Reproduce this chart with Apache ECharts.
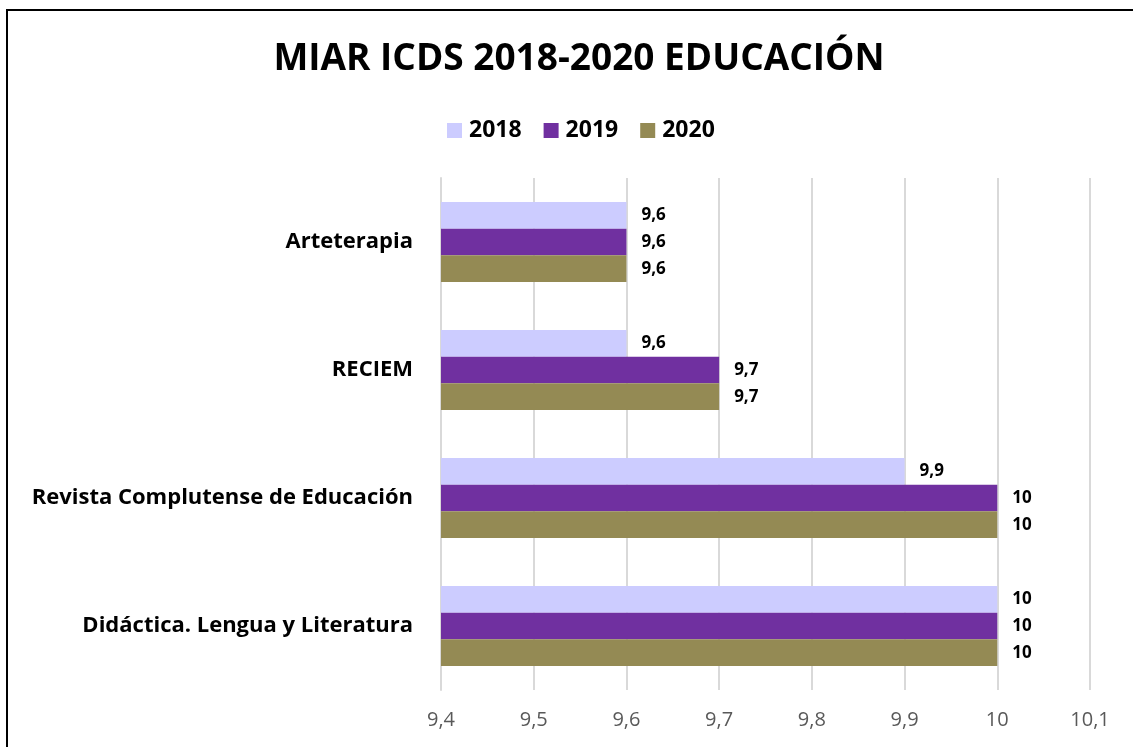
<!DOCTYPE html>
<html>
<head>
<meta charset="utf-8">
<script src="https://cdn.jsdelivr.net/npm/echarts@6/dist/echarts.min.js"></script>
<style>
  html, body { margin: 0; padding: 0; background: #fff; }
  #main { width: 1133px; height: 747px; }
</style>
</head>
<body>
<div id="main"></div>
<script>
var categories = ['Didáctica. Lengua y Literatura', 'Revista Complutense de Educación', 'RECIEM', 'Arteterapia'];
var years = ['2018', '2019', '2020'];
var values2018 = [10, 9.9, 9.6, 9.6];
var values2019 = [10, 10, 9.7, 9.6];
var values2020 = [10, 10, 9.7, 9.6];
var colors = ['#CCCCFF', '#7030A0', '#948A54'];

var font = '"Open Sans", "Noto Sans", sans-serif';

function comma(v) {
    return String(v).replace('.', ',');
}

var seriesData = [values2018, values2019, values2020];
var series = [];
for (var i = 0; i < years.length; i++) {
    series.push({
        name: years[i],
        type: 'bar',
        data: seriesData[i],
        barGap: '0%',
        barCategoryGap: '37.5%',
        itemStyle: { color: colors[i] },
        label: {
            show: true,
            position: 'right',
            distance: 15,
            color: '#000',
            fontWeight: 'bold',
            fontSize: 17,
            fontFamily: font,
            formatter: function (p) { return comma(p.value); }
        }
    });
}

var option = {
    backgroundColor: '#fff',
    animation: false,
    color: colors,
    title: {
        text: 'MIAR ICDS 2018-2020 EDUCACIÓN',
        left: 574,
        textAlign: 'center',
        top: 36,
        textStyle: { fontFamily: font, fontWeight: 'bold', fontSize: 37, color: '#000' }
    },
    legend: {
        top: 114,
        left: 442,
        itemWidth: 15,
        itemHeight: 15,
        itemGap: 22,
        icon: 'rect',
        textStyle: { fontFamily: font, fontWeight: 'bold', fontSize: 23, color: '#000', padding: [0, 0, 0, 2] }
    },
    grid: { left: 441, right: 43, top: 178, bottom: 57 },
    xAxis: {
        type: 'value',
        min: 9.4,
        max: 10.1,
        interval: 0.1,
        axisLine: { show: false },
        axisTick: { show: false },
        splitLine: { lineStyle: { color: '#d9d9d9', width: 2 } },
        axisLabel: {
            color: '#595959',
            fontSize: 20,
            fontFamily: font,
            margin: 20,
            formatter: function (v) { return comma(Math.round(v * 10) / 10); }
        }
    },
    yAxis: {
        type: 'category',
        data: categories,
        axisLine: { show: true, lineStyle: { color: '#d9d9d9', width: 2 } },
        axisTick: { show: false },
        axisLabel: {
            color: '#000',
            fontWeight: 'bold',
            fontSize: 22,
            fontFamily: font,
            margin: 28
        }
    },
    graphic: [{
        type: 'rect',
        shape: { x: 7, y: 10, width: 1200, height: 800 },
        style: { fill: 'none', stroke: '#000', lineWidth: 2 },
        silent: true
    }],
    series: series
};

var chart = echarts.init(document.getElementById('main'));
chart.setOption(option);
</script>
</body>
</html>
